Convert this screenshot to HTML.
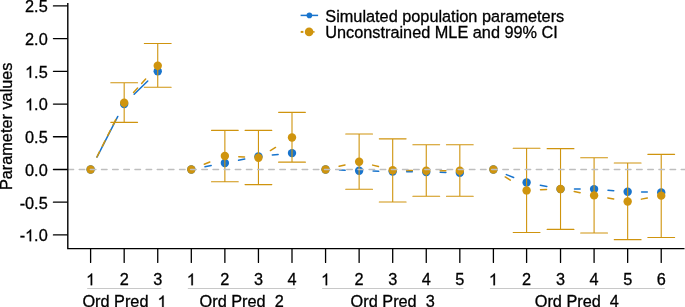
<!DOCTYPE html>
<html><head><meta charset="utf-8"><style>
html,body{margin:0;padding:0;background:#fff;overflow:hidden}
svg{display:block;will-change:transform}
.t{font-family:"Liberation Sans",sans-serif;font-size:16.3px;fill:#000;stroke:#000;stroke-width:0.3px}
</style></head><body>
<svg width="685" height="307" viewBox="0 0 685 307">
<line x1="96.98" y1="157.07" x2="117.81" y2="116.46" stroke="#1874cd" stroke-width="1.5" stroke-linecap="round"/>
<line x1="134.17" y1="94.31" x2="147.75" y2="81.06" stroke="#1874cd" stroke-width="1.5" stroke-linecap="round"/>
<line x1="205.00" y1="166.81" x2="211.18" y2="165.61" stroke="#1874cd" stroke-width="1.5" stroke-linecap="round"/>
<line x1="238.56" y1="160.27" x2="244.75" y2="159.06" stroke="#1874cd" stroke-width="1.5" stroke-linecap="round"/>
<line x1="272.32" y1="155.04" x2="278.12" y2="154.47" stroke="#1874cd" stroke-width="1.5" stroke-linecap="round"/>
<line x1="339.51" y1="170.02" x2="345.19" y2="170.25" stroke="#1874cd" stroke-width="1.5" stroke-linecap="round"/>
<line x1="373.08" y1="171.06" x2="378.75" y2="171.17" stroke="#1874cd" stroke-width="1.5" stroke-linecap="round"/>
<line x1="406.65" y1="171.71" x2="412.32" y2="171.83" stroke="#1874cd" stroke-width="1.5" stroke-linecap="round"/>
<line x1="440.21" y1="172.37" x2="445.88" y2="172.48" stroke="#1874cd" stroke-width="1.5" stroke-linecap="round"/>
<line x1="506.37" y1="174.60" x2="513.62" y2="177.45" stroke="#1874cd" stroke-width="1.5" stroke-linecap="round"/>
<line x1="540.30" y1="185.21" x2="546.83" y2="186.47" stroke="#1874cd" stroke-width="1.5" stroke-linecap="round"/>
<line x1="574.48" y1="189.11" x2="580.14" y2="189.11" stroke="#1874cd" stroke-width="1.5" stroke-linecap="round"/>
<line x1="608.00" y1="190.20" x2="613.75" y2="190.64" stroke="#1874cd" stroke-width="1.5" stroke-linecap="round"/>
<line x1="641.61" y1="192.00" x2="647.28" y2="192.11" stroke="#1874cd" stroke-width="1.5" stroke-linecap="round"/>
<circle cx="90.61" cy="169.48" r="4.2" fill="#1874cd"/>
<circle cx="124.18" cy="104.04" r="4.2" fill="#1874cd"/>
<circle cx="157.74" cy="71.33" r="4.2" fill="#1874cd"/>
<circle cx="191.31" cy="169.48" r="4.2" fill="#1874cd"/>
<circle cx="224.87" cy="162.94" r="4.2" fill="#1874cd"/>
<circle cx="258.44" cy="156.39" r="4.2" fill="#1874cd"/>
<circle cx="292.00" cy="153.12" r="4.2" fill="#1874cd"/>
<circle cx="325.57" cy="169.48" r="4.2" fill="#1874cd"/>
<circle cx="359.13" cy="170.79" r="4.2" fill="#1874cd"/>
<circle cx="392.70" cy="171.44" r="4.2" fill="#1874cd"/>
<circle cx="426.26" cy="172.10" r="4.2" fill="#1874cd"/>
<circle cx="459.83" cy="172.75" r="4.2" fill="#1874cd"/>
<circle cx="493.40" cy="169.48" r="4.2" fill="#1874cd"/>
<circle cx="526.60" cy="182.57" r="4.2" fill="#1874cd"/>
<circle cx="560.53" cy="189.11" r="4.2" fill="#1874cd"/>
<circle cx="594.09" cy="189.11" r="4.2" fill="#1874cd"/>
<circle cx="627.66" cy="191.73" r="4.2" fill="#1874cd"/>
<circle cx="661.22" cy="192.38" r="4.2" fill="#1874cd"/>
<line x1="96.88" y1="157.02" x2="117.91" y2="115.20" stroke="#cf940e" stroke-width="1.5" stroke-linecap="round" stroke-dasharray="6 6"/>
<line x1="133.55" y1="92.41" x2="148.36" y2="76.09" stroke="#cf940e" stroke-width="1.5" stroke-linecap="round" stroke-dasharray="6 6"/>
<line x1="204.25" y1="164.28" x2="211.93" y2="161.20" stroke="#cf940e" stroke-width="1.5" stroke-linecap="round" stroke-dasharray="6 6"/>
<line x1="238.80" y1="156.73" x2="244.51" y2="157.03" stroke="#cf940e" stroke-width="1.5" stroke-linecap="round" stroke-dasharray="6 6"/>
<line x1="270.39" y1="150.57" x2="280.05" y2="144.75" stroke="#cf940e" stroke-width="1.5" stroke-linecap="round" stroke-dasharray="6 6"/>
<line x1="339.16" y1="166.33" x2="345.54" y2="164.85" stroke="#cf940e" stroke-width="1.5" stroke-linecap="round" stroke-dasharray="6 6"/>
<line x1="372.66" y1="165.12" x2="379.18" y2="166.77" stroke="#cf940e" stroke-width="1.5" stroke-linecap="round" stroke-dasharray="6 6"/>
<line x1="406.65" y1="170.44" x2="412.32" y2="170.54" stroke="#cf940e" stroke-width="1.5" stroke-linecap="round" stroke-dasharray="6 6"/>
<line x1="440.21" y1="170.79" x2="445.88" y2="170.79" stroke="#cf940e" stroke-width="1.5" stroke-linecap="round" stroke-dasharray="6 6"/>
<line x1="505.20" y1="176.92" x2="514.80" y2="182.98" stroke="#cf940e" stroke-width="1.5" stroke-linecap="round" stroke-dasharray="6 6"/>
<line x1="540.54" y1="189.83" x2="546.59" y2="189.57" stroke="#cf940e" stroke-width="1.5" stroke-linecap="round" stroke-dasharray="6 6"/>
<line x1="574.23" y1="191.60" x2="580.39" y2="192.77" stroke="#cf940e" stroke-width="1.5" stroke-linecap="round" stroke-dasharray="6 6"/>
<line x1="607.81" y1="197.91" x2="613.94" y2="199.03" stroke="#cf940e" stroke-width="1.5" stroke-linecap="round" stroke-dasharray="6 6"/>
<line x1="641.40" y1="199.13" x2="647.48" y2="198.06" stroke="#cf940e" stroke-width="1.5" stroke-linecap="round" stroke-dasharray="6 6"/>
<path d="M110.78 82.78H137.58M124.18 82.78V122.37M110.78 122.37H137.58" stroke="#cf940e" stroke-width="1.1" stroke-linecap="round" fill="none"/>
<path d="M144.34 43.45H171.14M157.74 43.45V87.23M144.34 87.23H171.14" stroke="#cf940e" stroke-width="1.1" stroke-linecap="round" fill="none"/>
<path d="M211.47 130.35H238.27M224.87 130.35V181.78M211.47 181.78H238.27" stroke="#cf940e" stroke-width="1.1" stroke-linecap="round" fill="none"/>
<path d="M245.04 130.35H271.84M258.44 130.35V184.60M245.04 184.60H271.84" stroke="#cf940e" stroke-width="1.1" stroke-linecap="round" fill="none"/>
<path d="M278.60 112.36H305.40M292.00 112.36V162.15M278.60 162.15H305.40" stroke="#cf940e" stroke-width="1.1" stroke-linecap="round" fill="none"/>
<path d="M345.73 133.95H372.53M359.13 133.95V189.31M345.73 189.31H372.53" stroke="#cf940e" stroke-width="1.1" stroke-linecap="round" fill="none"/>
<path d="M379.30 138.86H406.10M392.70 138.86V202.00M379.30 202.00H406.10" stroke="#cf940e" stroke-width="1.1" stroke-linecap="round" fill="none"/>
<path d="M412.87 144.68H439.66M426.26 144.68V196.18M412.87 196.18H439.66" stroke="#cf940e" stroke-width="1.1" stroke-linecap="round" fill="none"/>
<path d="M446.43 144.68H473.23M459.83 144.68V196.18M446.43 196.18H473.23" stroke="#cf940e" stroke-width="1.1" stroke-linecap="round" fill="none"/>
<path d="M513.20 148.28H540.00M526.60 148.28V232.43M513.20 232.43H540.00" stroke="#cf940e" stroke-width="1.1" stroke-linecap="round" fill="none"/>
<path d="M547.13 148.67H573.93M560.53 148.67V229.42M547.13 229.42H573.93" stroke="#cf940e" stroke-width="1.1" stroke-linecap="round" fill="none"/>
<path d="M580.69 157.70H607.49M594.09 157.70V232.95M580.69 232.95H607.49" stroke="#cf940e" stroke-width="1.1" stroke-linecap="round" fill="none"/>
<path d="M614.26 163.00H641.06M627.66 163.00V239.63M614.26 239.63H641.06" stroke="#cf940e" stroke-width="1.1" stroke-linecap="round" fill="none"/>
<path d="M647.82 154.36H674.62M661.22 154.36V237.53M647.82 237.53H674.62" stroke="#cf940e" stroke-width="1.1" stroke-linecap="round" fill="none"/>
<circle cx="90.61" cy="169.48" r="4.2" fill="#cf940e"/>
<circle cx="124.18" cy="102.74" r="4.2" fill="#cf940e"/>
<circle cx="157.74" cy="65.77" r="4.2" fill="#cf940e"/>
<circle cx="191.31" cy="169.48" r="4.2" fill="#cf940e"/>
<circle cx="224.87" cy="156.00" r="4.2" fill="#cf940e"/>
<circle cx="258.44" cy="157.77" r="4.2" fill="#cf940e"/>
<circle cx="292.00" cy="137.55" r="4.2" fill="#cf940e"/>
<circle cx="325.57" cy="169.48" r="4.2" fill="#cf940e"/>
<circle cx="359.13" cy="161.69" r="4.2" fill="#cf940e"/>
<circle cx="392.70" cy="170.20" r="4.2" fill="#cf940e"/>
<circle cx="426.26" cy="170.79" r="4.2" fill="#cf940e"/>
<circle cx="459.83" cy="170.79" r="4.2" fill="#cf940e"/>
<circle cx="493.40" cy="169.48" r="4.2" fill="#cf940e"/>
<circle cx="526.60" cy="190.42" r="4.2" fill="#cf940e"/>
<circle cx="560.53" cy="188.98" r="4.2" fill="#cf940e"/>
<circle cx="594.09" cy="195.39" r="4.2" fill="#cf940e"/>
<circle cx="627.66" cy="201.54" r="4.2" fill="#cf940e"/>
<circle cx="661.22" cy="195.65" r="4.2" fill="#cf940e"/>
<line x1="68.05" y1="169.48" x2="685" y2="169.48" stroke="#bebebe" stroke-width="1.39" stroke-linecap="round" stroke-dasharray="5.574 5.574"/>
<path d="M67.8 2.9V248.6H684.5" stroke="#000" stroke-width="1.4" fill="none"/>
<line x1="53.45" y1="5.89" x2="67.20" y2="5.89" stroke="#000" stroke-width="1.3" stroke-linecap="round"/>
<text x="47.70" y="12.19" text-anchor="end" class="t" xml:space="preserve">2.5</text>
<line x1="53.45" y1="38.61" x2="67.20" y2="38.61" stroke="#000" stroke-width="1.3" stroke-linecap="round"/>
<text x="47.70" y="44.91" text-anchor="end" class="t" xml:space="preserve">2.0</text>
<line x1="53.45" y1="71.33" x2="67.20" y2="71.33" stroke="#000" stroke-width="1.3" stroke-linecap="round"/>
<text x="47.70" y="77.63" text-anchor="end" class="t" xml:space="preserve">&#8199;.5</text>
<path d="M763 0H583V1147Q518 1085 412.5 1023T223 930V1104Q374 1175 487 1276T647 1472H763Z" stroke="#000" stroke-width="37.7" transform="translate(25.04 77.63) scale(0.007959 -0.007959)"/>
<line x1="53.45" y1="104.04" x2="67.20" y2="104.04" stroke="#000" stroke-width="1.3" stroke-linecap="round"/>
<text x="47.70" y="110.34" text-anchor="end" class="t" xml:space="preserve">&#8199;.0</text>
<path d="M763 0H583V1147Q518 1085 412.5 1023T223 930V1104Q374 1175 487 1276T647 1472H763Z" stroke="#000" stroke-width="37.7" transform="translate(25.04 110.34) scale(0.007959 -0.007959)"/>
<line x1="53.45" y1="136.76" x2="67.20" y2="136.76" stroke="#000" stroke-width="1.3" stroke-linecap="round"/>
<text x="47.70" y="143.06" text-anchor="end" class="t" xml:space="preserve">0.5</text>
<line x1="53.45" y1="169.48" x2="67.20" y2="169.48" stroke="#000" stroke-width="1.3" stroke-linecap="round"/>
<text x="47.70" y="175.78" text-anchor="end" class="t" xml:space="preserve">0.0</text>
<line x1="53.45" y1="202.20" x2="67.20" y2="202.20" stroke="#000" stroke-width="1.3" stroke-linecap="round"/>
<text x="47.70" y="208.50" text-anchor="end" class="t" xml:space="preserve">-0.5</text>
<line x1="53.45" y1="234.91" x2="67.20" y2="234.91" stroke="#000" stroke-width="1.3" stroke-linecap="round"/>
<text x="47.70" y="241.22" text-anchor="end" class="t" xml:space="preserve">-&#8199;.0</text>
<path d="M763 0H583V1147Q518 1085 412.5 1023T223 930V1104Q374 1175 487 1276T647 1472H763Z" stroke="#000" stroke-width="37.7" transform="translate(25.04 241.22) scale(0.007959 -0.007959)"/>
<line x1="90.61" y1="248.6" x2="90.61" y2="262.45" stroke="#000" stroke-width="1.3" stroke-linecap="round"/>
<text x="90.61" y="285.20" text-anchor="middle" class="t" xml:space="preserve">&#8199;</text>
<path d="M763 0H583V1147Q518 1085 412.5 1023T223 930V1104Q374 1175 487 1276T647 1472H763Z" stroke="#000" stroke-width="37.7" transform="translate(86.08 285.20) scale(0.007959 -0.007959)"/>
<line x1="124.18" y1="248.6" x2="124.18" y2="262.45" stroke="#000" stroke-width="1.3" stroke-linecap="round"/>
<text x="124.18" y="285.20" text-anchor="middle" class="t" xml:space="preserve">2</text>
<line x1="157.74" y1="248.6" x2="157.74" y2="262.45" stroke="#000" stroke-width="1.3" stroke-linecap="round"/>
<text x="157.74" y="285.20" text-anchor="middle" class="t" xml:space="preserve">3</text>
<line x1="87.61" y1="288.5" x2="160.94" y2="288.5" stroke="#c8c8c8" stroke-width="1.1" stroke-linecap="round"/>
<text x="124.48" y="307.30" text-anchor="middle" class="t" xml:space="preserve">Ord Pred  &#8199;</text>
<path d="M763 0H583V1147Q518 1085 412.5 1023T223 930V1104Q374 1175 487 1276T647 1472H763Z" stroke="#000" stroke-width="37.7" transform="translate(157.54 307.30) scale(0.007959 -0.007959)"/>
<line x1="191.31" y1="248.6" x2="191.31" y2="262.45" stroke="#000" stroke-width="1.3" stroke-linecap="round"/>
<text x="191.31" y="285.20" text-anchor="middle" class="t" xml:space="preserve">&#8199;</text>
<path d="M763 0H583V1147Q518 1085 412.5 1023T223 930V1104Q374 1175 487 1276T647 1472H763Z" stroke="#000" stroke-width="37.7" transform="translate(186.77 285.20) scale(0.007959 -0.007959)"/>
<line x1="224.87" y1="248.6" x2="224.87" y2="262.45" stroke="#000" stroke-width="1.3" stroke-linecap="round"/>
<text x="224.87" y="285.20" text-anchor="middle" class="t" xml:space="preserve">2</text>
<line x1="258.44" y1="248.6" x2="258.44" y2="262.45" stroke="#000" stroke-width="1.3" stroke-linecap="round"/>
<text x="258.44" y="285.20" text-anchor="middle" class="t" xml:space="preserve">3</text>
<line x1="292.00" y1="248.6" x2="292.00" y2="262.45" stroke="#000" stroke-width="1.3" stroke-linecap="round"/>
<text x="292.00" y="285.20" text-anchor="middle" class="t" xml:space="preserve">4</text>
<line x1="188.31" y1="288.5" x2="295.20" y2="288.5" stroke="#c8c8c8" stroke-width="1.1" stroke-linecap="round"/>
<text x="241.65" y="307.30" text-anchor="middle" class="t" xml:space="preserve">Ord Pred  2</text>
<line x1="325.57" y1="248.6" x2="325.57" y2="262.45" stroke="#000" stroke-width="1.3" stroke-linecap="round"/>
<text x="325.57" y="285.20" text-anchor="middle" class="t" xml:space="preserve">&#8199;</text>
<path d="M763 0H583V1147Q518 1085 412.5 1023T223 930V1104Q374 1175 487 1276T647 1472H763Z" stroke="#000" stroke-width="37.7" transform="translate(321.04 285.20) scale(0.007959 -0.007959)"/>
<line x1="359.13" y1="248.6" x2="359.13" y2="262.45" stroke="#000" stroke-width="1.3" stroke-linecap="round"/>
<text x="359.13" y="285.20" text-anchor="middle" class="t" xml:space="preserve">2</text>
<line x1="392.70" y1="248.6" x2="392.70" y2="262.45" stroke="#000" stroke-width="1.3" stroke-linecap="round"/>
<text x="392.70" y="285.20" text-anchor="middle" class="t" xml:space="preserve">3</text>
<line x1="426.26" y1="248.6" x2="426.26" y2="262.45" stroke="#000" stroke-width="1.3" stroke-linecap="round"/>
<text x="426.26" y="285.20" text-anchor="middle" class="t" xml:space="preserve">4</text>
<line x1="459.83" y1="248.6" x2="459.83" y2="262.45" stroke="#000" stroke-width="1.3" stroke-linecap="round"/>
<text x="459.83" y="285.20" text-anchor="middle" class="t" xml:space="preserve">5</text>
<line x1="322.57" y1="288.5" x2="463.03" y2="288.5" stroke="#c8c8c8" stroke-width="1.1" stroke-linecap="round"/>
<text x="392.70" y="307.30" text-anchor="middle" class="t" xml:space="preserve">Ord Pred  3</text>
<line x1="493.40" y1="248.6" x2="493.40" y2="262.45" stroke="#000" stroke-width="1.3" stroke-linecap="round"/>
<text x="493.40" y="285.20" text-anchor="middle" class="t" xml:space="preserve">&#8199;</text>
<path d="M763 0H583V1147Q518 1085 412.5 1023T223 930V1104Q374 1175 487 1276T647 1472H763Z" stroke="#000" stroke-width="37.7" transform="translate(488.86 285.20) scale(0.007959 -0.007959)"/>
<line x1="526.60" y1="248.6" x2="526.60" y2="262.45" stroke="#000" stroke-width="1.3" stroke-linecap="round"/>
<text x="526.60" y="285.20" text-anchor="middle" class="t" xml:space="preserve">2</text>
<line x1="560.53" y1="248.6" x2="560.53" y2="262.45" stroke="#000" stroke-width="1.3" stroke-linecap="round"/>
<text x="560.53" y="285.20" text-anchor="middle" class="t" xml:space="preserve">3</text>
<line x1="594.09" y1="248.6" x2="594.09" y2="262.45" stroke="#000" stroke-width="1.3" stroke-linecap="round"/>
<text x="594.09" y="285.20" text-anchor="middle" class="t" xml:space="preserve">4</text>
<line x1="627.66" y1="248.6" x2="627.66" y2="262.45" stroke="#000" stroke-width="1.3" stroke-linecap="round"/>
<text x="627.66" y="285.20" text-anchor="middle" class="t" xml:space="preserve">5</text>
<line x1="661.22" y1="248.6" x2="661.22" y2="262.45" stroke="#000" stroke-width="1.3" stroke-linecap="round"/>
<text x="661.22" y="285.20" text-anchor="middle" class="t" xml:space="preserve">6</text>
<line x1="490.40" y1="288.5" x2="664.42" y2="288.5" stroke="#c8c8c8" stroke-width="1.1" stroke-linecap="round"/>
<text x="576.81" y="307.30" text-anchor="middle" class="t" xml:space="preserve">Ord Pred  4</text>
<text transform="translate(11.7,126.3) rotate(-90)" text-anchor="middle" class="t">Parameter values</text>
<line x1="300.6" y1="15.4" x2="318.1" y2="15.4" stroke="#1874cd" stroke-width="1.5"/>
<circle cx="309.4" cy="15.4" r="2.8" fill="#1874cd"/>
<line x1="300.7" y1="31.9" x2="303.4" y2="31.9" stroke="#cf940e" stroke-width="2"/>
<line x1="312" y1="31.9" x2="314.6" y2="31.9" stroke="#cf940e" stroke-width="1.5"/>
<circle cx="309.1" cy="31.9" r="4.3" fill="#cf940e"/>
<text x="325.3" y="21.8" class="t">Simulated population parameters</text>
<text x="325.3" y="38.4" class="t">Unconstrained MLE and 99% CI</text>
</svg>
</body></html>
